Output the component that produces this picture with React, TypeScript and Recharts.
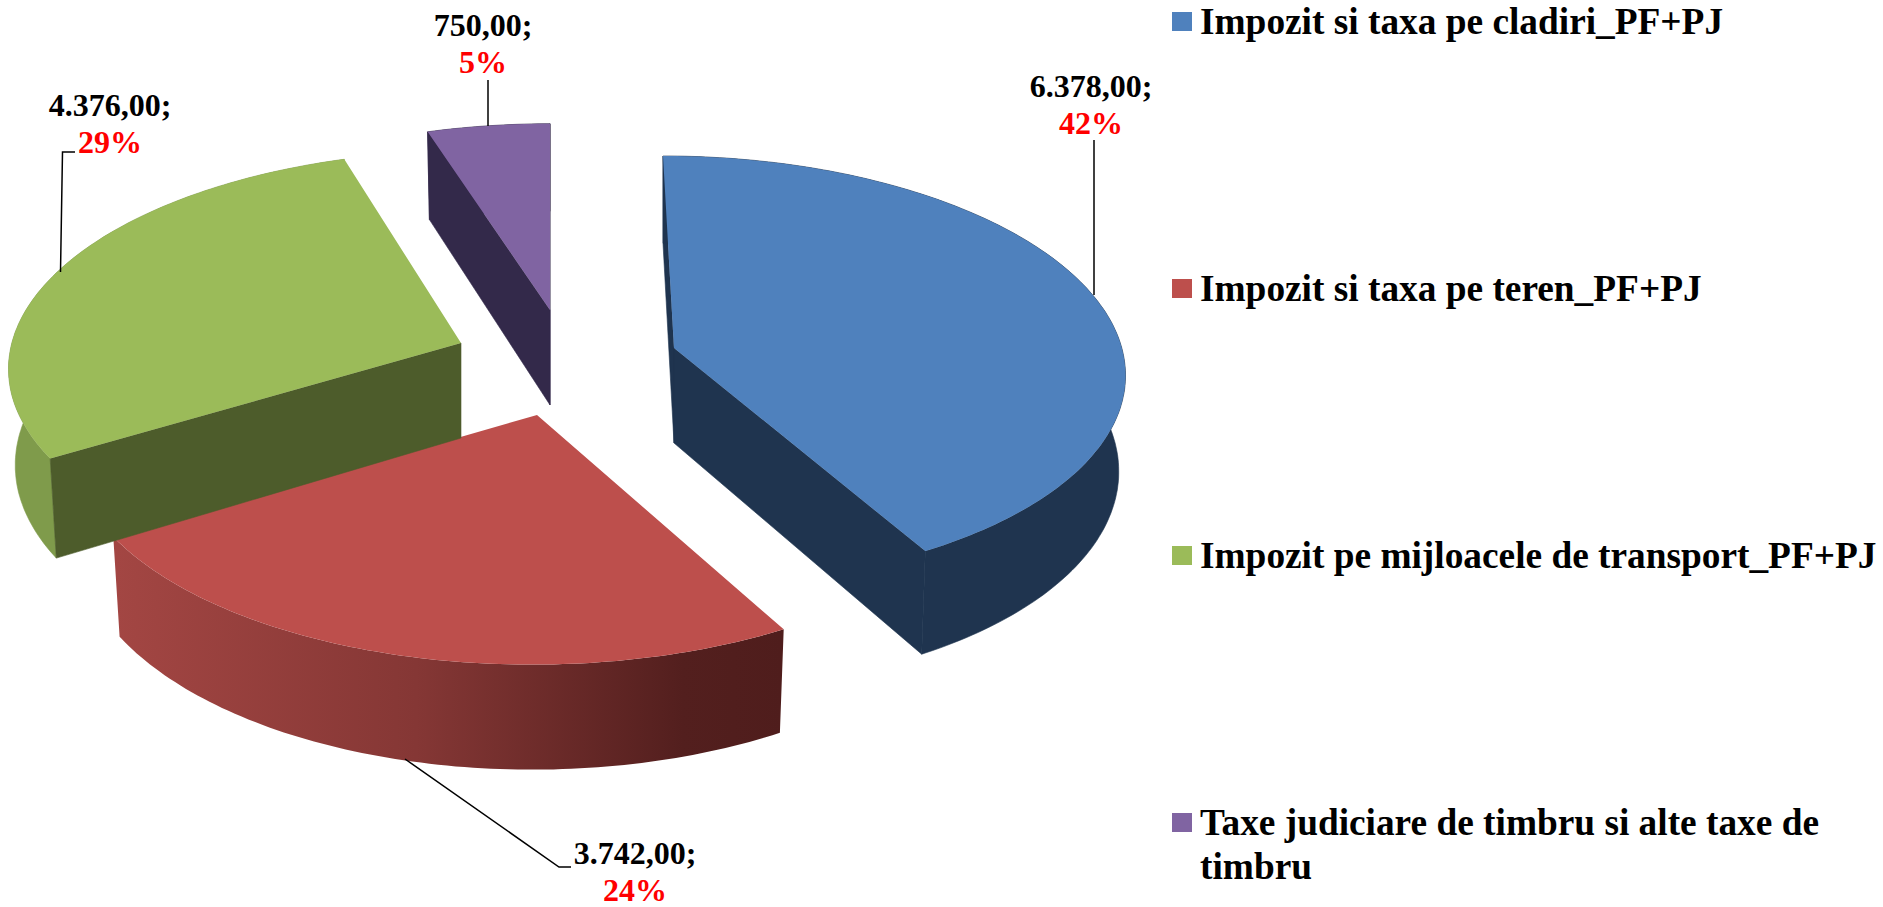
import { Legend, Pie, PieChart } from "recharts";

const CATEGORIES = [
  "Impozit si taxa pe cladiri_PF+PJ",
  "Impozit si taxa pe teren_PF+PJ",
  "Impozit pe mijloacele de transport_PF+PJ",
  "Taxe judiciare de timbru si alte taxe de timbru",
];
const VALUES = [6378, 3742, 4376, 750];
const PERCENT_LABELS = ["42%", "24%", "29%", "5%"];

const TOP_COLORS = ["#4f81bd", "#bd4f4c", "#9bbb59", "#8064a2"];
const WALL_COLORS = ["#1f344f", "#4f1d1c", "#7f9b4b", "#33294a"];
const CUT_COLORS = ["#1f344f", "#4f1d1c", "#4d5c2b", "#33294a"];

const WIDTH = 1883;
const HEIGHT = 907;
const CX = 560;
const CY = 360;
const RADIUS = 456;
const RY = 212;
const TILT = 0.104;
const DEPTH = 95;

// each slice is pulled out of the pie by hand, like in the original 3D chart
const EXPLODE = [
  { dx: 114, dy: -12, shear: 11, rx: 0.982, ry: 1 },
  { dx: -23, dy: 55, shear: -5, rx: 1.02, ry: 1.055 },
  { dx: -99, dy: -17, shear: -8, rx: 0.985, ry: 1 },
  { dx: -10, dy: -50, shear: 0, rx: 0.97, ry: 0.97 },
];

const LABEL_POS = [
  { x: 1091, y: 97 },
  { x: 635, y: 864 },
  { x: 110, y: 116 },
  { x: 483, y: 36 },
];
const LEADERS = [
  "M1094 140 L1094 295",
  "M405 759 L559 867 L571 867",
  "M60.5 272 L62.5 152 L75 152",
  "M488 80 L488 126",
];
const LEGEND_TOPS = [12, 279, 546, 813];

const data = CATEGORIES.map((name, i) => ({ name, value: VALUES[i], fill: TOP_COLORS[i] }));

function formatValue(v: number) {
  return v.toFixed(2).replace(".", ",").replace(/\B(?=(\d{3})+,)/g, ".") + ";";
}

function project(i: number, deg: number, cx: number, cy: number, r: number, lower: boolean) {
  const e = EXPLODE[i];
  const t = (deg * Math.PI) / 180;
  const u = Math.sin(t);
  const v = -Math.cos(t);
  const w = 1 - TILT * v;
  const rx = r * e.rx * (lower ? 0.985 : 1);
  const ry = RY * e.ry * (lower ? 1.04 : 1);
  return [
    cx + e.dx + (rx * u) / w + e.shear * v,
    cy + e.dy + (ry * v) / w + (lower ? DEPTH : 0),
  ];
}

function toPath(points: number[][]) {
  return "M" + points.map((p) => p[0].toFixed(1) + " " + p[1].toFixed(1)).join(" L") + " Z";
}

function Slice3D(props: any) {
  const { cx, cy, outerRadius, startAngle, endAngle, name } = props;
  const i = CATEGORIES.indexOf(name);
  const from = 90 - startAngle;
  const to = 90 - endAngle;
  const upper: number[][] = [];
  const lower: number[][] = [];
  for (let a = from; a < to; a += 1) {
    upper.push(project(i, a, cx, cy, outerRadius, false));
    lower.push(project(i, a, cx, cy, outerRadius, true));
  }
  upper.push(project(i, to, cx, cy, outerRadius, false));
  lower.push(project(i, to, cx, cy, outerRadius, true));

  const e = EXPLODE[i];
  const apex = [cx + e.dx, cy + e.dy];
  const apexLow = [cx + e.dx, cy + e.dy + DEPTH];
  const showStart = Math.sin((from * Math.PI) / 180) < 0.01;
  const showEnd = Math.sin((to * Math.PI) / 180) > -0.01;
  const gradId = "wall-" + i;
  const wallFill = i === 1 ? `url(#${gradId})` : WALL_COLORS[i];

  return (
    <g>
      <defs>
        <linearGradient id={gradId} gradientUnits="userSpaceOnUse" x1={116} x2={783} y1={0} y2={0}>
          <stop offset="0" stopColor="#a34643" />
          <stop offset="0.45" stopColor="#853735" />
          <stop offset="0.85" stopColor="#531f1e" />
          <stop offset="1" stopColor="#4f1d1c" />
        </linearGradient>
      </defs>
      <path
        d={toPath([...upper, ...[...lower].reverse()])}
        fill={wallFill}
        stroke={i === 1 ? "none" : wallFill}
        strokeWidth={0.6}
      />
      {showStart && (
        <path
          d={toPath([upper[0], apex, apexLow, lower[0]])}
          fill={CUT_COLORS[i]}
          stroke={CUT_COLORS[i]}
          strokeWidth={0.6}
        />
      )}
      {showEnd && (
        <path
          d={toPath([upper[upper.length - 1], apex, apexLow, lower[lower.length - 1]])}
          fill={CUT_COLORS[i]}
          stroke={CUT_COLORS[i]}
          strokeWidth={0.6}
        />
      )}
      <path d={toPath([apex, ...upper])} fill={TOP_COLORS[i]} />
    </g>
  );
}

function SliceLabel(props: any) {
  const i = props.index;
  const pos = LABEL_POS[i];
  return (
    <text
      textAnchor="middle"
      fontFamily="'Liberation Serif', serif"
      fontWeight="bold"
      fontSize={32}
    >
      <tspan x={pos.x} y={pos.y} fill="#000000">
        {formatValue(VALUES[i])}
      </tspan>
      <tspan x={pos.x} y={pos.y + 36.5} fill="#ff0000">
        {PERCENT_LABELS[i]}
      </tspan>
    </text>
  );
}

function Leader(props: any) {
  return <path d={LEADERS[props.index]} fill="none" stroke="#000000" strokeWidth={1.5} />;
}

function LegendBox({ payload }: any) {
  return (
    <div style={{ position: "relative", width: WIDTH, height: HEIGHT }}>
      {(payload ?? []).map((entry: any, i: number) => (
        <div key={entry.value}>
          <div
            style={{
              position: "absolute",
              left: 1172,
              top: LEGEND_TOPS[i],
              width: 20,
              height: 19,
              background: TOP_COLORS[i],
            }}
          />
          <div
            style={{
              position: "absolute",
              left: 1200,
              top: LEGEND_TOPS[i] - 12,
              width: 683,
              fontFamily: "'Liberation Serif', serif",
              fontWeight: "bold",
              fontSize: 37.33,
              lineHeight: "44px",
              color: "#000000",
            }}
          >
            {entry.value}
          </div>
        </div>
      ))}
    </div>
  );
}

export default function App() {
  return (
    <div style={{ position: "absolute", left: 0, top: 0, width: WIDTH, height: HEIGHT, background: "#ffffff" }}>
      <PieChart width={WIDTH} height={HEIGHT} margin={{ top: 0, right: 0, bottom: 0, left: 0 }}>
        <Pie
          data={data}
          dataKey="value"
          nameKey="name"
          cx={CX}
          cy={CY}
          outerRadius={RADIUS}
          startAngle={90}
          endAngle={-270}
          stroke="none"
          isAnimationActive={false}
          shape={Slice3D}
          activeShape={Slice3D}
          label={SliceLabel}
          labelLine={Leader}
        />
        <Legend
          content={LegendBox}
          itemSorter={null}
          wrapperStyle={{ position: "absolute", left: 0, top: 0, width: WIDTH, height: HEIGHT, pointerEvents: "none" }}
        />
      </PieChart>
    </div>
  );
}
